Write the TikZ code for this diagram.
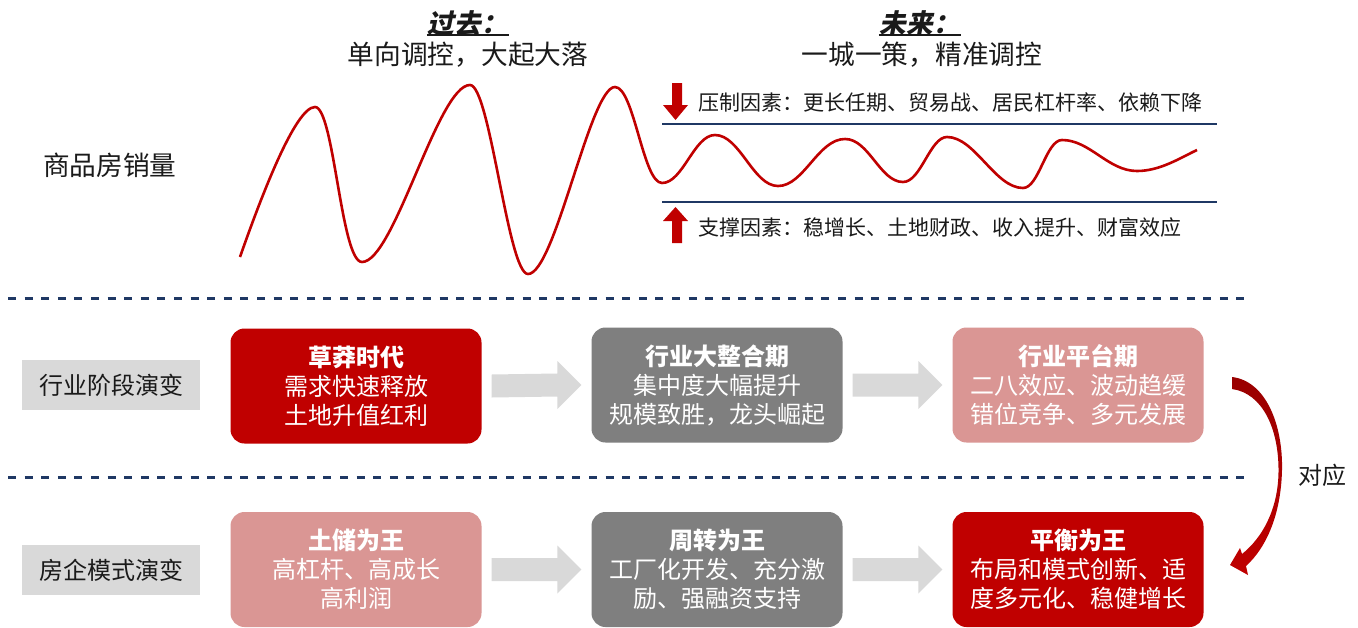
\documentclass[tikz,border=0pt]{standalone}
\usepackage{fontspec}
\setmainfont{Noto Sans CJK SC}
\newfontfamily\slcjk{Noto Sans CJK SC}[FakeSlant=0.2]
\usetikzlibrary{calc}
\definecolor{cred}{HTML}{C00000}
\definecolor{cgray}{HTML}{7F7F7F}
\definecolor{cpink}{HTML}{DA9694}
\definecolor{clab}{HTML}{D9D9D9}
\definecolor{cnavy}{HTML}{1F3864}
\definecolor{cdark}{HTML}{990000}
\definecolor{ctext}{HTML}{1A1A1A}
\tikzset{
  box/.style={rounded corners=14pt, minimum width=251pt, minimum height=115pt,
    text=white, align=center, inner sep=0pt, font=\fontsize{24}{29}\selectfont},
  lab/.style={fill=clab, minimum width=178pt, minimum height=50pt, inner sep=0pt,
    text=ctext, font=\fontsize{24}{29}\selectfont},
  big/.style={inner sep=0pt, text=ctext, font=\fontsize{26.7}{30}\selectfont},
  head/.style={inner sep=0pt, text=ctext, text height=23.5pt, text depth=3.2pt,
    font=\fontsize{26.7}{30}\selectfont\slcjk\bfseries},
  factor/.style={inner sep=0pt, anchor=west, text=ctext, font=\fontsize{21}{25}\selectfont},
  dashline/.style={cnavy, line width=3pt, dash pattern=on 8pt off 8.6pt},
  solidline/.style={cnavy, line width=2pt},
  wave/.style={cred, line width=2.6pt},
  blk/.style={fill=clab},
}
\newcommand{\blkarrow}[2]{%
  \path (#1.east) ++(10,0) coordinate (s) (#2.west) ++(-10,0) coordinate (e);
  \fill[blk] ($(s)+(0,-11.5)$) -- ($(e)+(-24,-11.5)$) -- ($(e)+(-24,-24)$) -- (e)
    -- ($(e)+(-24,24)$) -- ($(e)+(-24,11.5)$) -- ($(s)+(0,11.5)$) -- cycle;}
\begin{document}
\begin{tikzpicture}[x=1pt,y=-1pt]
\useasboundingbox (0,0) rectangle (1358,627);
\fill[white] (0,0) rectangle (1358,627);

% titles
\node[head] (pastT) at (468,23) {过去：};
\draw[ctext, line width=1.8pt] ($(pastT.south west)+(-1,-1.5)$) -- ($(pastT.south east)+(1,-1.5)$);
\node[big] (pastS) at (468,55) {单向调控，大起大落};
\node[head] (futT) at (920,23) {未来：};
\draw[ctext, line width=1.8pt] ($(futT.south west)+(-1,-1.5)$) -- ($(futT.south east)+(1,-1.5)$);
\node[big] (futS) at (922,55) {一城一策，精准调控};

\node[big, anchor=west] (sales) at (43,165) {商品房销量};

% wave
\draw[wave] (240,257) .. controls (260,200) and (295,107) .. (315,107)
  .. controls (334,107) and (341,262) .. (362,262)
  .. controls (394,262) and (438,85) .. (470,85)
  .. controls (490,85) and (508,274) .. (528,274)
  .. controls (555,274) and (590,87) .. (615,87)
  .. controls (634,87) and (643,183) .. (662,183)
  .. controls (683,183) and (694,135) .. (715,135)
  .. controls (740,135) and (753,186) .. (778,186)
  .. controls (804,186) and (818,139) .. (845,139)
  .. controls (869,139) and (880,182) .. (903,182)
  .. controls (921,182) and (930,137) .. (947,137)
  .. controls (975,137) and (995,188) .. (1023,188)
  .. controls (1039,188) and (1046,140) .. (1062,140)
  .. controls (1090,140) and (1108,171) .. (1137,171)
  .. controls (1160,171) and (1180,158) .. (1197,150);

% limit lines
\draw[solidline] (662,124) coordinate (tl) -- (1217,124) coordinate (tr);
\draw[solidline] (662,202) coordinate (bl) -- (1217,202) coordinate (br);

% red arrows
\fill[cred] (672,83) -- (682,83) -- (682,105) -- (688,105) -- (675.5,120) -- (663,105) -- (672,105) -- cycle;
\fill[cred] (672,243) -- (682,243) -- (682,221) -- (688,221) -- (675.5,207) -- (663,221) -- (672,221) -- cycle;
\node[factor] (down) at (698,102) {压制因素：更长任期、贸易战、居民杠杆率、依赖下降};
\node[factor] (up) at (698,227) {支撑因素：稳增长、土地财政、收入提升、财富效应};

% dashed separators
\draw[dashline] (8,298) coordinate (d1a) -- (1245,298) coordinate (d1b);
\draw[dashline] (8,477) coordinate (d2a) -- (1245,477) coordinate (d2b);

% row 1
\node[lab] (l1) at (111,385) {行业阶段演变};
\node[box, fill=cred] (a1) at (356,386) {{\bfseries 草莽时代}\\需求快速释放\\土地升值红利};
\node[box, fill=cgray] (a2) at (717,385) {{\bfseries 行业大整合期}\\集中度大幅提升\\规模致胜，龙头崛起};
\node[box, fill=cpink] (a3) at (1078,385) {{\bfseries 行业平台期}\\二八效应、波动趋缓\\错位竞争、多元发展};
\blkarrow{a1}{a2}
\blkarrow{a2}{a3}

% row 2
\node[lab] (l2) at (111,570) {房企模式演变};
\node[box, fill=cpink] (c1) at (356,569.5) {{\bfseries 土储为王}\\高杠杆、高成长\\高利润};
\node[box, fill=cgray] (c2) at (717,569.5) {{\bfseries 周转为王}\\工厂化开发、充分激\\励、强融资支持};
\node[box, fill=cred] (c3) at (1078,569.5) {{\bfseries 平衡为王}\\布局和模式创新、适\\度多元化、稳健增长};
\blkarrow{c1}{c2}
\blkarrow{c2}{c3}

% curved arrow
\shade[top color=cdark, bottom color=cred]
  (1232,377) .. controls (1266,381) and (1283,425) .. (1282,470)
  .. controls (1281,515) and (1266,548) .. (1246,566)
  -- (1248,575) -- (1230,565) -- (1240,548) -- (1242,554)
  .. controls (1262,538) and (1278,510) .. (1278.5,472)
  .. controls (1279,428) and (1262,393) .. (1232,389) -- cycle;
\node[inner sep=0pt, text=ctext, font=\fontsize{24}{29}\selectfont] (corr) at (1322,475) {对应};
\end{tikzpicture}
\end{document}
